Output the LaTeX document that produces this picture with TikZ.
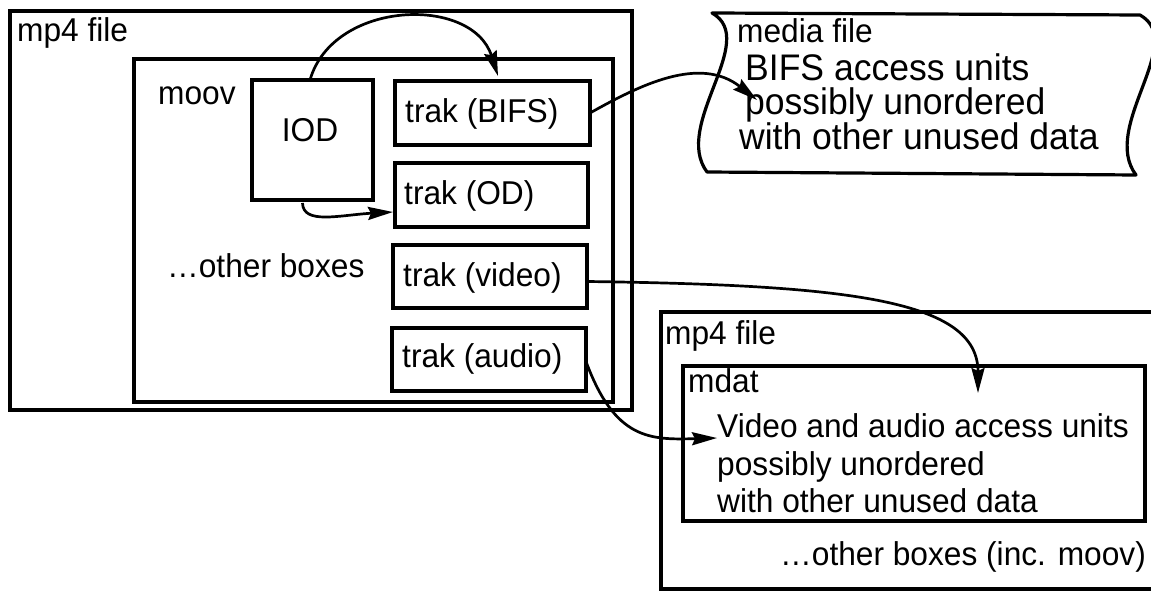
\documentclass[tikz,border=0pt]{standalone}
\usepackage{fontspec}
\setmainfont[FakeStretch=0.96]{Liberation Sans}
\usetikzlibrary{arrows.meta,calc}
\begin{document}
\begin{tikzpicture}[x=1pt,y=-1pt,
  box/.style={draw, line width=3.2pt, inner sep=0pt, outer sep=0pt, anchor=north west},
  lbl/.style={anchor=base west, inner sep=0pt, font=\fontsize{33}{40}\selectfont},
  biglbl/.style={anchor=base west, inner sep=0pt, font=\fontsize{37}{44}\selectfont},
  conn/.style={line width=2.7pt, -{Stealth[length=25pt,width=13pt,inset=3pt]}},
]
\useasboundingbox (0,0) rectangle (1151,593);
\clip (0,0) rectangle (1151,593);

% left mp4 file
\node[box, minimum width=622pt, minimum height=399pt] (file1) at (10,11) {};
\node[box, minimum width=479pt, minimum height=343pt] (moov) at (134,59) {};
\node[box, minimum width=121pt, minimum height=120pt] (iod) at (252,80) {};
\node[box, minimum width=195pt, minimum height=64pt] (bifs) at (395,81) {};
\node[box, minimum width=193pt, minimum height=64pt] (od) at (395,163) {};
\node[box, minimum width=194pt, minimum height=63pt] (video) at (393,245) {};
\node[box, minimum width=194pt, minimum height=63pt] (audio) at (392,328) {};

\node[lbl] (t1) at (17,42) {mp4 file};
\node[lbl] (tmoov) at (158,105) {moov};
\node[lbl, anchor=base] (tiod) at (310,142) {IOD};
\node[lbl] (tother) at (167,278) {…other boxes};
\node[lbl] (tbifs) at (405,123) {trak (BIFS)};
\node[lbl] (tod) at (404,205) {trak (OD)};
\node[lbl] (tvideo) at (403,287) {trak (video)};
\node[lbl] (taudio) at (402,368) {trak (audio)};

% media file
\draw[line width=3.2pt, line join=round]
  (712,13) -- (1140,15) .. controls (1188,42) and (1100,127) .. (1136,175)
  -- (707,172) .. controls (672,125) and (760,40) .. (712,13) -- cycle;
\coordinate (mediatip) at (757,100);
\node[lbl] (tmedia) at (737,43) {media file};
\node[biglbl] (m1) at (745,81) {BIFS access units};
\node[biglbl] (m2) at (745,115) {possibly unordered};
\node[biglbl] (m3) at (739,150) {with other unused data};

% right mp4 file
\node[box, minimum width=520pt, minimum height=277pt] (file2) at (661,312) {};
\node[box, minimum width=462pt, minimum height=155pt] (mdat) at (683,366) {};
\node[lbl] (t2) at (665,345) {mp4 file};
\node[lbl] (tmdat) at (688,392) {mdat};
\node[lbl] (d1) at (717,437) {Video and audio access units};
\node[lbl] (d2) at (717,475) {possibly unordered};
\node[lbl] (d3) at (717,512) {with other unused data};
\node[lbl] (t3) at (780,565) {…other boxes (inc. moov)};

% connectors
\draw[conn] ([xshift=-2.5pt]iod.north) .. controls (333,0) and (472,-5) .. ([xshift=5.5pt,yshift=5pt]bifs.north);
\draw[conn] ([xshift=-10pt,yshift=-3pt]iod.south) .. controls (303,225) and (340,215) .. ($(od.south west)+(-2,-15)$);
\draw[conn] (bifs.east) .. controls (640,85) and (700,55) .. (mediatip);
\draw[conn] ([yshift=-5pt]video.east) .. controls (850,285) and (978,300) .. ($(mdat.north west)+(295,27)$);
\draw[conn] ([yshift=-2pt]audio.east) .. controls (615,440) and (650,440) .. ($(mdat.west)+(34,-5.5)$);
\end{tikzpicture}
\end{document}
